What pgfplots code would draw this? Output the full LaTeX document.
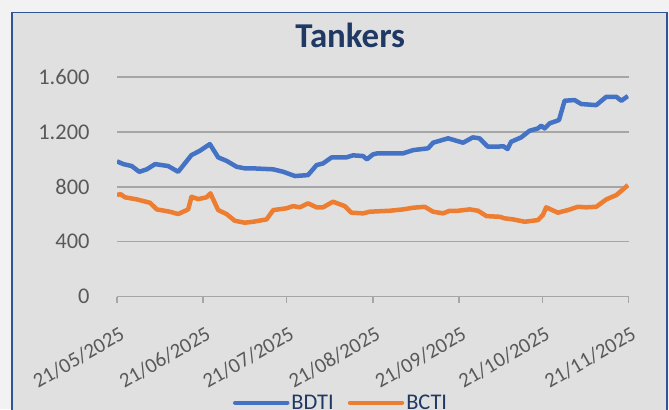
\documentclass[border=0pt]{standalone}
\usepackage{pgfplots}
\pgfplotsset{compat=1.18}
\usepackage{fontspec}
\setmainfont{Carlito}
\definecolor{bg}{HTML}{F2F2F2}
\definecolor{panel}{HTML}{E0E0E0}
\definecolor{frame}{HTML}{2F5597}
\definecolor{gridc}{HTML}{A6A6A6}
\definecolor{tickc}{HTML}{595959}
\definecolor{navy}{HTML}{1F3864}
\definecolor{bdti}{HTML}{4472C4}
\definecolor{bcti}{HTML}{ED7D31}
\begin{document}
\begin{tikzpicture}[x=1bp,y=1bp]
\useasboundingbox (0,0) rectangle (669,409);
\clip (0,0) rectangle (669,409);
\fill[bg] (0,0) rectangle (669,409);
\filldraw[fill=panel, draw=frame, line width=1.5bp] (12,-10) rectangle (667,396.5);
\begin{axis}[
  at={(117bp,112.5bp)}, anchor=south west,
  scale only axis, width=511.5bp, height=219.5bp,
  xmin=0, xmax=184, ymin=0, ymax=1600,
  ytick={0,400,800,1200,1600},
  ymajorgrids, grid style={gridc, line width=1.5bp},
  xtick={0,31,61,92,123,153,184},
  xticklabels={21/05/2025,21/06/2025,21/07/2025,21/08/2025,21/09/2025,21/10/2025,21/11/2025},
  xtick pos=bottom, tick align=outside, major tick length=6bp,
  xtick style={gridc, line width=1.5bp},
  ytick style={draw=none},
  x axis line style={gridc, line width=1.5bp},
  y axis line style={draw=none},
  /pgf/number format/assume math mode=true,
  /pgf/number format/1000 sep={.},
  tick label style={font=\fontsize{22.5}{27}\selectfont, text=tickc},
  yticklabel style={anchor=east, xshift=-18bp},
  xticklabel style={font=\fontsize{21}{25}\selectfont, xshift=1.5bp, yshift=-23bp, rotate=30, anchor=north east, inner sep=0pt},
  title={Tankers},
  title style={font=\bfseries\fontsize{35}{40}\selectfont, text=navy, at={(0.456,1.108)}, anchor=base},
  legend style={at={(0.438,-0.485)}, anchor=center, draw=none, fill=none, legend columns=2,
    font=\fontsize{22.5}{27}\selectfont, text=navy,
    /tikz/every even column/.append style={column sep=12bp}},
  legend image code/.code={\draw[#1, line width=4.5bp, line cap=round] (0bp,0bp) -- (52bp,0bp);},
]
\addplot[bdti, line width=4.5bp, line join=round] table {
x y
0 985
2.3 965
5.3 951
8.0 909
10.7 927
13.7 965
18.4 951
22.0 909
26.8 1031
29.8 1062
33.4 1111
36.4 1014
39.4 989
43.0 946
46.0 934
49.0 934
56.2 927
59.8 909
64.0 878
68.7 885
71.8 958
74.1 970
77.2 1014
82.5 1014
84.9 1029
88.5 1024
89.9 1000
92.0 1035
93.5 1043
98.1 1043
102.9 1043
106.5 1067
111.9 1080
113.7 1121
119.1 1153
124.5 1121
128.0 1160
130.4 1153
133.4 1092
136.5 1092
139.0 1095
140.5 1075
141.8 1128
145.4 1160
148.4 1208
151.4 1225
152.6 1245
153.8 1225
155.6 1262
159.0 1286
161.0 1427
164.6 1432
167.0 1403
172.4 1395
176.0 1456
179.6 1456
181.4 1427
183.8 1461
};
\addlegendentry{BDTI}
\addplot[bcti, line width=4.5bp, line join=round] table {
x y
0 739
1.2 747
2.9 723
7.1 708
11.9 683
14.3 635
19.0 618
22.0 601
25.6 635
26.8 727
29.2 710
32.2 723
33.6 752
36.4 630
39.4 601
42.4 552
46.0 538
49.0 545
53.8 562
56.2 630
61.0 643
63.4 659
65.8 650
68.7 679
71.8 650
74.1 650
77.7 691
81.9 659
84.3 611
88.5 606
90.9 618
98.1 625
102.9 635
106.5 647
110.7 654
113.7 618
117.3 606
119.7 625
122.7 625
126.9 635
129.9 625
132.9 586
137.7 581
139.4 570
142.5 562
146.7 545
151.4 557
153.2 594
154.4 650
158.6 611
162.2 630
165.8 654
168.8 650
172.4 654
176.0 708
179.6 739
183.8 812
};
\addlegendentry{BCTI}
\end{axis}
\end{tikzpicture}
\end{document}
